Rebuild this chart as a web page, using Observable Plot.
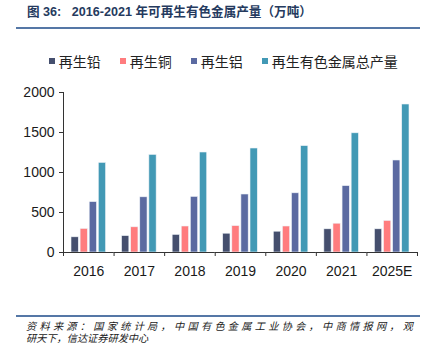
<!DOCTYPE html>
<html><head><meta charset="utf-8">
<script src="https://cdn.jsdelivr.net/npm/d3@7"></script>
<script src="https://cdn.jsdelivr.net/npm/@observablehq/plot@0.6"></script>
<style>
body{margin:0;background:#fff;}
#wrap{position:relative;width:424px;height:348px;overflow:hidden;font-family:"Liberation Sans","Noto Sans CJK SC",sans-serif;color:#1a1a1a;}
#title{position:absolute;left:27px;top:4px;font-size:12.6px;line-height:16px;font-weight:bold;color:#253a5e;white-space:pre;}
.hr{position:absolute;left:16px;width:404px;height:2px;background:#5577a6;}
#legend{position:absolute;left:48.7px;top:53px;height:16px;display:flex;align-items:center;font-family:"Noto Sans CJK SC",sans-serif;font-size:14px;line-height:16px;color:#222;}
.item{display:flex;align-items:center;margin-right:19px;}
.sw{width:6px;height:6px;margin-right:4px;}
#chart{position:absolute;left:0;top:75px;}
#caption{position:absolute;left:26px;top:319.5px;width:387px;font-family:"Noto Sans CJK SC",sans-serif;font-style:italic;font-size:10.2px;line-height:12.4px;color:#1a1a1a;}
#cap1{text-align:justify;text-align-last:justify;height:12.4px;overflow:visible;}
#cap2{height:12.4px;}
</style></head><body>
<div id="wrap">
  <div id="title"></div>
  <div class="hr" style="top:27.3px"></div>
  <div id="legend"></div>
  <div id="chart"></div>
  <div class="hr" style="top:315px;height:1.7px"></div>
  <div id="caption"><div id="cap1"></div><div id="cap2"></div></div>
</div>
<script>
const titleText = "图 36:   2016-2021 年可再生有色金属产量（万吨）";
const captionLine1 = "资料来源：国家统计局，中国有色金属工业协会，中商情报网，观";
const captionLine2 = "研天下，信达证券研发中心";

const years = ["2016", "2017", "2018", "2019", "2020", "2021", "2025E"];
const seriesNames = ["再生铅", "再生铜", "再生铝", "再生有色金属总产量"];
const lead     = [190, 205, 220, 235, 260, 290, 290];
const copper   = [295, 315, 325, 330, 325, 360, 395];
const aluminum = [630, 690, 695, 725, 740, 830, 1150];
const total    = [1120, 1220, 1250, 1300, 1330, 1490, 1850];
const colors = ["#454f6e", "#ff7c7e", "#5b6aa1", "#4299b5"];
const yTicks = [0, 500, 1000, 1500, 2000];

const seriesValues = [lead, copper, aluminum, total];
const data = [];
years.forEach((yr, i) => seriesNames.forEach((s, j) => data.push({year: yr, series: s, value: seriesValues[j][i]})));

document.getElementById("title").textContent = titleText;
document.getElementById("cap1").textContent = captionLine1;
document.getElementById("cap2").textContent = captionLine2;

const legend = document.getElementById("legend");
seriesNames.forEach((s, j) => {
  const it = document.createElement("div"); it.className = "item";
  const sw = document.createElement("div"); sw.className = "sw"; sw.style.background = colors[j];
  const t = document.createElement("span"); t.textContent = s;
  it.appendChild(sw); it.appendChild(t); legend.appendChild(it);
});

const W = 424, H = 215, ML = 63, MR = 7, MT = 17, MB = 38;
const step = (W - ML - MR) / years.length;

const chart = Plot.plot({
  width: W, height: H, marginLeft: ML, marginRight: MR, marginTop: MT, marginBottom: MB,
  style: {fontFamily: "Liberation Sans, Arial, sans-serif", fontSize: "14px", color: "#1a1a1a", background: "transparent"},
  fx: {domain: years, padding: 0, label: null, round: false},
  x: {domain: seriesNames, paddingInner: 0.2, paddingOuter: 0.88, axis: null, round: false},
  y: {domain: [0, 2000], label: null},
  color: {domain: seriesNames, range: colors},
  marks: [
    Plot.barY(data, {fx: "year", x: "series", y: "value", fill: "series", stroke: "#eef3f8", strokeWidth: 0.6}),
    Plot.ruleY([0], {stroke: "#333"}),
    Plot.frame({anchor: "left", facetAnchor: "left", stroke: "#333"}),
    Plot.axisY({ticks: yTicks, tickFormat: d => String(d), tickSize: 4, tickPadding: 5, fontSize: 14, label: null, stroke: "#333"}),
    Plot.axisFx({anchor: "bottom", tickSize: 0, tickPadding: 14, fontSize: 14, label: null}),
    Plot.axisFx({anchor: "bottom", tickSize: 4, tickFormat: () => "", label: null, dx: -step / 2, stroke: "#333"}),
    Plot.axisFx({anchor: "bottom", ticks: [years[years.length - 1]], tickSize: 4, tickFormat: () => "", label: null, dx: step / 2, stroke: "#333"})
  ]
});
document.getElementById("chart").appendChild(chart);
</script>
</body></html>
